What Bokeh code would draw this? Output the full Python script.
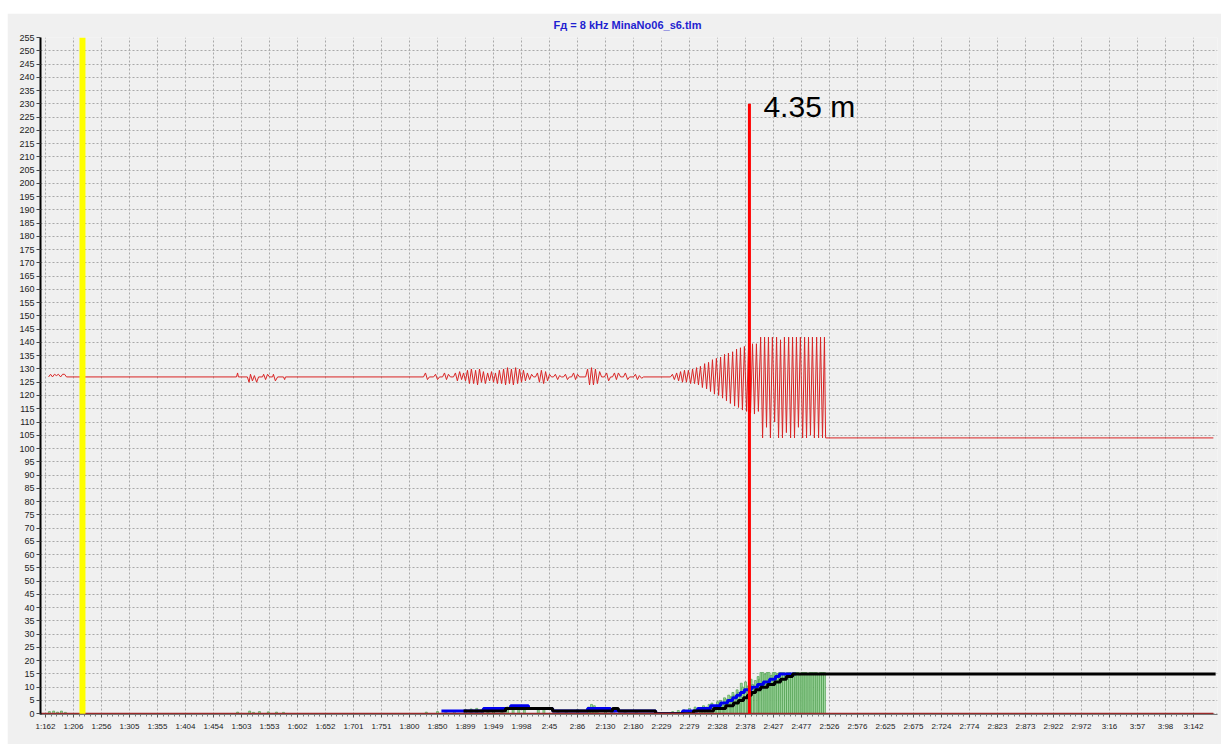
from bokeh.plotting import figure
from bokeh.models import ColumnDataSource, FixedTicker, Range1d
from bokeh.core.properties import value
from bokeh.embed import file_html
from bokeh.resources import INLINE

# ---- time axis (tick index -> "s:ms" label) ----
x_labels = ["1:162", "1:206", "1:256", "1:305", "1:355", "1:404", "1:454", "1:503",
            "1:553", "1:602", "1:652", "1:701", "1:751", "1:800", "1:850", "1:899",
            "1:949", "1:998", "2:45", "2:86", "2:130", "2:180", "2:229", "2:279",
            "2:328", "2:378", "2:427", "2:477", "2:526", "2:576", "2:625", "2:675",
            "2:724", "2:774", "2:823", "2:873", "2:922", "2:972", "3:16", "3:57",
            "3:98", "3:142"]
y_ticks = list(range(0, 256, 5))

# ---- ADC channel (red trace): (time in tick units, level) ----
wave_pts = [
    (0.11, 127), (0.18, 128), (0.25, 127), (0.32, 128), (0.39, 127.5), (0.46, 128),
    (0.54, 127), (0.61, 128), (0.68, 128), (0.75, 127),
    (6.82, 127), (6.86, 128.5), (6.89, 127),
    (7.21, 127), (7.27, 125), (7.32, 128), (7.39, 125.5), (7.46, 127.5), (7.54, 125), (7.61, 127),
    (7.75, 127), (7.79, 128), (7.86, 126), (7.93, 128), (8.00, 127),
    (8.11, 127), (8.14, 128), (8.21, 125.5), (8.29, 127), (8.50, 127), (8.54, 126), (8.57, 127),
    (13.50, 127), (13.57, 128.5), (13.64, 126), (13.71, 127),
    (13.86, 127), (13.93, 128), (14.00, 126), (14.07, 127),
    (14.18, 127), (14.25, 128.5), (14.32, 126), (14.39, 128), (14.46, 127),
    (14.57, 127), (14.64, 128.5), (14.71, 125.5), (14.79, 129), (14.86, 126), (14.93, 128.5),
    (15.00, 125.5), (15.07, 129.5), (15.14, 124.5), (15.21, 130), (15.29, 124.5), (15.36, 129.5),
    (15.43, 124), (15.50, 130), (15.57, 125), (15.64, 129), (15.71, 124.5), (15.79, 128.5),
    (15.86, 125.5), (15.93, 129), (16.00, 125), (16.07, 128.5), (16.14, 124.5), (16.21, 129.5),
    (16.29, 124.5), (16.36, 130), (16.43, 124), (16.50, 130.5), (16.57, 124.5), (16.64, 130),
    (16.71, 124), (16.79, 130.5), (16.86, 124.5), (16.93, 130), (17.00, 125), (17.07, 129.5),
    (17.14, 125.5), (17.21, 128.5), (17.29, 126), (17.36, 128), (17.43, 127),
    (17.50, 127), (17.57, 128.5), (17.64, 125), (17.71, 129.5), (17.79, 124.5), (17.86, 129),
    (17.93, 125.5), (18.00, 128), (18.07, 127),
    (18.14, 127), (18.21, 128), (18.29, 126), (18.36, 127.5), (18.43, 127),
    (18.50, 127), (18.57, 128), (18.64, 126), (18.71, 127),
    (18.79, 127), (18.86, 128.5), (18.93, 126), (19.00, 128), (19.07, 127),
    (19.29, 127), (19.36, 130), (19.43, 124), (19.50, 130.5), (19.57, 124), (19.64, 130),
    (19.71, 124.5), (19.79, 129), (19.86, 127),
    (19.96, 127), (20.04, 128.5), (20.11, 125.5), (20.18, 127),
    (20.25, 127), (20.32, 128.5), (20.39, 126), (20.46, 128.5), (20.54, 127),
    (20.64, 127), (20.71, 128.5), (20.79, 126), (20.86, 127),
    (21.00, 127), (21.07, 128), (21.14, 126), (21.21, 127.5), (21.29, 126.5), (21.36, 127),
    (22.32, 127), (22.39, 128), (22.46, 126), (22.54, 128.5), (22.61, 125.5), (22.68, 129),
    (22.75, 125), (22.82, 129.5), (22.89, 125), (22.96, 129.5), (23.04, 124.5), (23.11, 130),
    (23.18, 124.5), (23.25, 130.5), (23.32, 124),
    (23.39, 131), (23.46, 123), (23.54, 132), (23.61, 122.5), (23.68, 132.5), (23.75, 121.5),
    (23.82, 133.5), (23.89, 120.5), (23.96, 134), (24.04, 120), (24.11, 134.5), (24.18, 119),
    (24.25, 135.5), (24.32, 118), (24.39, 136), (24.46, 117), (24.54, 136.5), (24.61, 116),
    (24.68, 137.5), (24.75, 115.5), (24.82, 138), (24.89, 114.5), (24.96, 138.5), (25.04, 114),
    (25.11, 139), (25.18, 113.5), (25.25, 139.5), (25.32, 113), (25.39, 139.5), (25.46, 114),
    (25.54, 142), (25.61, 104), (25.68, 142), (25.75, 108), (25.82, 142), (25.89, 104),
    (25.96, 142), (26.04, 110), (26.11, 142), (26.18, 104), (26.25, 141), (26.32, 104),
    (26.39, 142), (26.46, 106), (26.54, 142), (26.61, 104), (26.68, 142), (26.75, 104),
    (26.82, 142), (26.89, 108), (26.96, 142), (27.04, 104), (27.11, 142), (27.18, 104),
    (27.25, 142), (27.32, 105), (27.39, 142), (27.46, 104), (27.54, 142), (27.61, 104),
    (27.68, 142), (27.75, 104), (27.82, 142), (27.86, 104),
    (41.71, 104),
]
wave_x = [t for t, _ in wave_pts]
wave_y = [v for _, v in wave_pts]

# ---- envelope bars (green) ----
bar_x = [0.14, 0.29, 0.43, 0.57, 0.71,
         6.86, 7.29, 7.43, 7.64, 7.96, 8.25, 8.50,
         13.6, 14.0, 14.3, 14.6, 15.0, 15.2, 15.4, 15.6, 15.8, 16.0, 16.3, 16.5, 16.7, 16.9,
         17.1, 17.6, 17.8, 18.3, 18.6, 19.0, 19.4, 19.5, 19.6, 19.7, 20.0, 20.3, 20.7, 21.1,
         22.4, 22.6, 22.8, 23.0, 23.2, 23.4, 23.5, 23.6, 23.7, 23.8, 23.9, 24.0, 24.1, 24.15,
         24.25, 24.3, 24.4, 24.5, 24.55, 24.6, 24.7, 24.75, 24.85, 24.9, 25.0, 25.1, 25.2,
         25.25, 25.35, 25.45, 25.5, 25.55,
         25.62, 25.70, 25.77, 25.84, 25.92, 25.99, 26.06, 26.14, 26.21, 26.28, 26.36, 26.43,
         26.50, 26.58, 26.65, 26.72, 26.80, 26.87, 26.94, 27.02, 27.09, 27.16, 27.24, 27.31,
         27.38, 27.46, 27.53, 27.60, 27.68, 27.75, 27.82]
bar_h = [0.8, 1.0, 0.6, 1.0, 0.5,
         0.6, 1.0, 0.5, 0.8, 0.7, 0.6, 0.5,
         0.6, 0.8, 1.0, 1.2, 1.5, 1.8, 2.0, 1.5, 2.2, 1.8, 2.0, 2.5, 2.2, 1.8,
         1.5, 1.5, 1.8, 1.0, 1.2, 1.5, 2.5, 3.5, 3.0, 2.0, 1.2, 1.5, 1.0, 0.8,
         0.8, 1.2, 1.5, 2.0, 2.5, 2.0, 3.0, 2.5, 3.5, 4.0, 3.0, 4.5, 5.0, 4.0,
         6.0, 5.5, 7.0, 6.5, 8.0, 7.0, 9.0, 8.0, 11.5, 10.0, 12.0, 10.5, 13.0,
         11.0, 12.5, 14.0, 13.0, 15.5,
         15.5, 15.0, 15.5, 15.5, 14.5, 15.5, 15.5, 15.0, 15.5, 15.5, 15.5, 14.5,
         15.5, 15.5, 15.0, 15.5, 15.5, 15.5, 14.5, 15.5, 15.5, 15.5, 15.0, 15.5,
         15.5, 15.5, 15.5, 15.0, 15.5, 15.5, 15.5]

# ---- detector counters (step traces) ----
blue_x = [14.14, 15.64, 16.61, 17.25, 18.11, 19.36, 20.18, 21.79, 22.75, 23.29, 23.75,
          24.11, 24.36, 24.54, 24.68, 24.82, 24.96, 25.21, 25.43, 25.64, 25.86, 26.07,
          26.21, 26.80]
blue_y = [1, 2, 3, 2, 1, 2, 1, 0, 1, 2, 3, 4, 5, 6, 7, 8, 9, 10, 11, 12, 13, 14, 15, 15]

black_x = [14.93, 16.43, 18.11, 20.25, 20.46, 21.79, 23.14, 23.86, 24.29, 24.57, 24.75,
           24.93, 25.07, 25.21, 25.36, 25.54, 25.79, 26.04, 26.25, 26.46, 26.68, 41.79]
black_y = [1, 2, 1, 2, 1, 0, 1, 2, 3, 4, 5, 6, 7, 8, 9, 10, 11, 12, 13, 14, 15, 15]

# ---- markers ----
start_marker_x = 1.32
hit_marker_x = 25.14
hit_marker_top = 230
hit_label = "4.35 m"
hit_label_x = 25.64
hit_label_y = 229

title_text = "F\u0434 = 8 kHz  MinaNo06_s6.tlm"

x_lo, x_hi = -0.179, 41.857
y_lo, y_hi = -0.3, 255

p = figure(width=1214, height=731, output_backend="svg", toolbar_location=None,
           x_range=Range1d(x_lo, x_hi), y_range=Range1d(y_lo, y_hi),
           min_border_left=33, min_border_right=4, min_border_top=0, min_border_bottom=30,
           background_fill_color="#f0f0f0", border_fill_color="#f0f0f0")
p.margin = (13, 0, 0, 7)
p.outline_line_color = None

p.title.text = title_text
p.title.align = "center"
p.title.vertical_align = "top"
p.title.offset = -18
p.title.text_color = "#1f1fd0"
p.title.text_font = "Liberation Sans"
p.title.text_font_size = "11px"
p.title.text_font_style = "bold"
p.title.standoff = 10

# axes
minor = [i + k / 5 for i in range(41) for k in range(1, 5)]
p.xaxis.ticker = FixedTicker(ticks=list(range(len(x_labels))), minor_ticks=minor)
p.xaxis.major_label_overrides = {i: s for i, s in enumerate(x_labels)}
p.xaxis.axis_line_color = "#777777"
p.xaxis.major_tick_line_color = "#555555"
p.xaxis.minor_tick_line_color = "#777777"
p.xaxis.major_tick_in = 0
p.xaxis.major_tick_out = 3
p.xaxis.minor_tick_in = 0
p.xaxis.minor_tick_out = 2
p.xaxis.major_label_standoff = 4
p.xaxis.major_label_text_font = "Liberation Sans"
p.xaxis.major_label_text_font_size = "8px"
p.xaxis.major_label_text_color = "#222222"

p.yaxis.ticker = FixedTicker(ticks=y_ticks)
p.yaxis.axis_line_color = "black"
p.yaxis.axis_line_width = 2
p.yaxis.major_tick_line_color = "#444444"
p.yaxis.major_tick_in = 0
p.yaxis.major_tick_out = 4
p.yaxis.minor_tick_line_color = None
p.yaxis.major_label_standoff = 2
p.yaxis.major_label_text_font = "Liberation Sans"
p.yaxis.major_label_text_font_size = "9px"
p.yaxis.major_label_text_color = "#222222"

for g in (p.xgrid, p.ygrid):
    g.grid_line_color = "#a9a9a9"
    g.grid_line_dash = "2 2"
    g.grid_line_width = 1

# red ADC trace
p.line(wave_x, wave_y, line_color="#d92424", line_width=1)

# envelope bars
p.vbar(x=bar_x, top=bar_h, bottom=0, width=0.07,
       fill_color="#a3d8a3", line_color="#3e963e", line_width=0.6)

# counters
p.step(blue_x, blue_y, mode="after", line_color="#0000f0", line_width=3)
p.step(black_x, black_y, mode="after", line_color="black", line_width=3)

# zero-level channel
p.line([x_lo, wave_x[-1]], [0, 0], line_color="#9a2a2a", line_width=2)

# start marker
p.segment(x0=[start_marker_x], y0=[0], x1=[start_marker_x], y1=[y_hi],
          line_color="#ffff00", line_width=6)

# hit marker with distance
p.segment(x0=[hit_marker_x], y0=[0], x1=[hit_marker_x], y1=[hit_marker_top],
          line_color="#ff0000", line_width=3)
lab = ColumnDataSource(dict(x=[hit_label_x], y=[hit_label_y], t=[hit_label]))
p.text(x="x", y="y", text="t", source=lab, text_font=value("Liberation Sans"),
       text_font_size="30px", text_color="black", text_baseline="middle",
       text_align="left")

open("out.html", "w").write(file_html(p, INLINE))
